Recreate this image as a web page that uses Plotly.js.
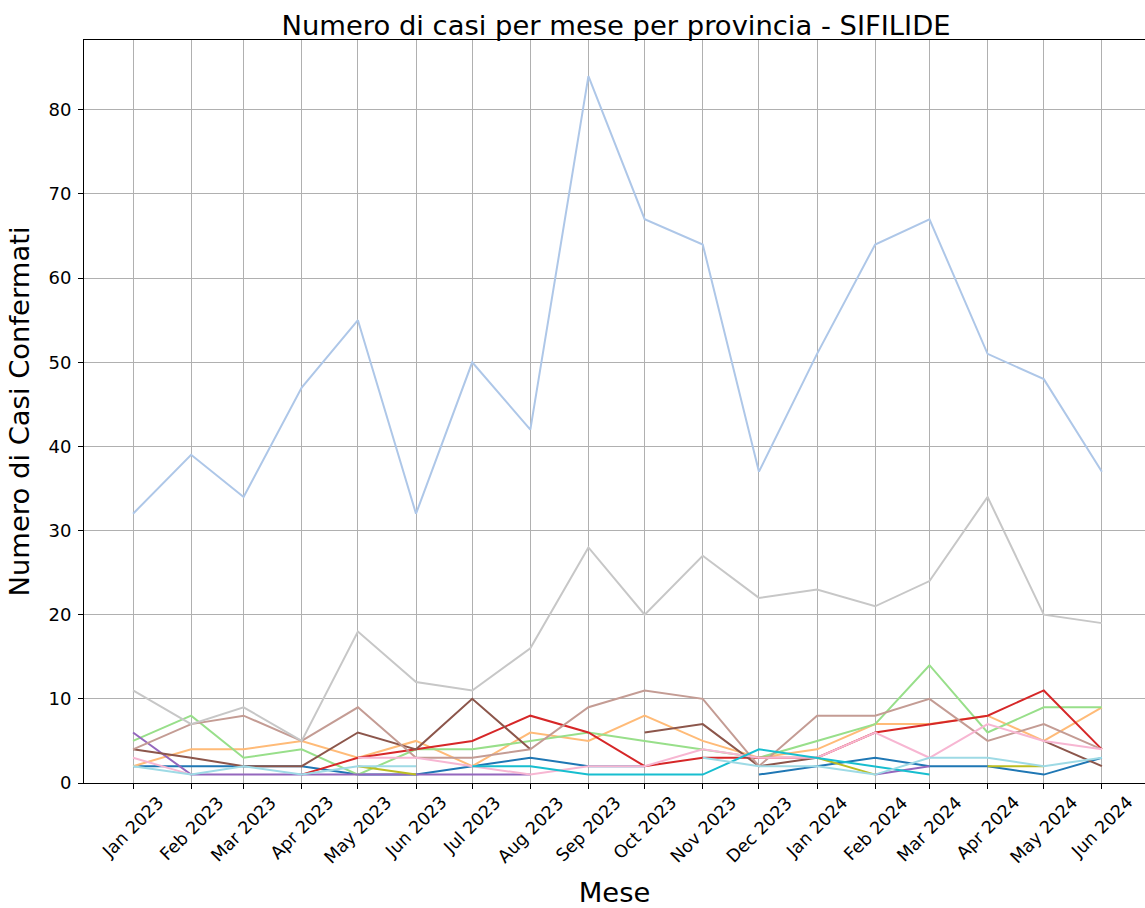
<!DOCTYPE html>
<html>
<head>
<meta charset="utf-8">
<script src="https://cdn.plot.ly/plotly-3.0.1.min.js"></script>
<style>html,body{margin:0;padding:0;background:#fff;overflow:hidden}</style>
</head>
<body>
<div id="chart" style="width:1145px;height:908px"></div>
<script>
const months = ['2023-01-01','2023-02-01','2023-03-01','2023-04-01','2023-05-01','2023-06-01','2023-07-01','2023-08-01','2023-09-01','2023-10-01','2023-11-01','2023-12-01','2024-01-01','2024-02-01','2024-03-01','2024-04-01','2024-05-01','2024-06-01'];
const tickLabels = ['Jan 2023','Feb 2023','Mar 2023','Apr 2023','May 2023','Jun 2023','Jul 2023','Aug 2023','Sep 2023','Oct 2023','Nov 2023','Dec 2023','Jan 2024','Feb 2024','Mar 2024','Apr 2024','May 2024','Jun 2024'];
const yTicks = [0,10,20,30,40,50,60,70,80];

const seriesBlue       = [2,2,2,2,1,1,2,3,2,2,null,1,2,3,2,2,1,3];
const seriesLightBlue  = [32,39,34,47,55,32,50,42,84,67,64,37,51,64,67,51,48,37];
const seriesLightOrange= [2,4,4,5,3,5,2,6,5,8,5,3,4,7,7,8,5,9];
const seriesLightGreen = [5,8,3,4,1,4,4,5,6,5,4,3,5,7,14,6,9,9];
const seriesRed        = [null,null,null,1,3,4,5,8,6,2,3,3,3,6,7,8,11,4];
const seriesPurple     = [6,1,1,1,1,1,1,1,null,null,null,null,null,1,2,null,null,null];
const seriesBrown      = [4,3,2,2,6,4,10,4,null,6,7,2,3,null,null,null,5,2];
const seriesLightBrown = [4,7,8,5,9,3,3,4,9,11,10,2,8,8,10,5,7,4];
const seriesPink       = [3,1,null,null,3,3,2,1,2,2,4,3,3,6,3,7,5,4];
const seriesLightGrey  = [11,7,9,5,18,12,11,16,28,20,27,22,23,21,24,34,20,19];
const seriesOlive      = [null,null,null,null,2,1,null,null,null,null,null,null,3,1,null,2,2,null];
const seriesCyan       = [null,null,null,null,null,null,2,2,1,1,1,4,3,2,1,null,null,null];
const seriesLightCyan  = [2,1,2,1,2,2,null,null,null,null,3,2,2,1,3,3,2,3];

const seriesList = [
  [seriesBlue, '#1f77b4'],
  [seriesLightBlue, '#aec7e8'],
  [seriesLightOrange, '#ffbb78'],
  [seriesLightGreen, '#98df8a'],
  [seriesRed, '#d62728'],
  [seriesPurple, '#9467bd'],
  [seriesBrown, '#8c564b'],
  [seriesLightBrown, '#c49c94'],
  [seriesPink, '#f7b6d2'],
  [seriesLightGrey, '#c7c7c7'],
  [seriesOlive, '#bcbd22'],
  [seriesCyan, '#17becf'],
  [seriesLightCyan, '#9edae5']
];

const FONT = 'DejaVu Sans, sans-serif';
const traces = seriesList.map(([ys, c]) => ({
  type: 'scatter', mode: 'lines', x: months, y: ys,
  line: {color: c, width: 2}, connectgaps: false, hoverinfo: 'skip'
}));

const tickAnnotations = months.map((m, i) => ({
  x: m, xref: 'x', y: 0, yref: 'paper', yshift: -7,
  xanchor: 'center', yanchor: 'top', textangle: -45,
  text: tickLabels[i], showarrow: false,
  font: {family: FONT, size: 17.5, color: '#000'}
}));

const layout = {
  width: 1145, height: 908,
  margin: {l: 84, r: 0, t: 40, b: 125},
  paper_bgcolor: '#fff', plot_bgcolor: '#fff',
  showlegend: false,
  font: {family: FONT, color: '#000'},
  title: {text: 'Numero di casi per mese per provincia - SIFILIDE', font: {family: FONT, size: 27.4, color: '#000'},
          x: 616/1145, xref: 'container', xanchor: 'center', y: 1 - 25/908, yref: 'container', yanchor: 'middle'},
  xaxis: {
    type: 'date', range: ['2022-12-05 20:00', '2024-06-24'],
    tickmode: 'array', tickvals: months, showticklabels: false,
    ticks: 'outside', ticklen: 5, tickcolor: '#000', tickwidth: 1,
    showgrid: true, gridcolor: '#b0b0b0', gridwidth: 1,
    showline: true, linecolor: '#000', linewidth: 1, mirror: true,
    zeroline: false,
    title: {text: 'Mese', font: {family: FONT, size: 27.4, color: '#000'}, standoff: 94}
  },
  yaxis: {
    range: [0, 88.3], tickmode: 'array', tickvals: yTicks,
    ticks: 'outside', ticklen: 5, tickcolor: '#000', tickwidth: 1,
    ticklabelstandoff: 3,
    tickfont: {family: FONT, size: 18, color: '#000'},
    showgrid: true, gridcolor: '#b0b0b0', gridwidth: 1,
    showline: true, linecolor: '#000', linewidth: 1, mirror: false,
    zeroline: false,
    title: {text: 'Numero di Casi Confermati', font: {family: FONT, size: 27.4, color: '#000'}, standoff: 10}
  },
  annotations: tickAnnotations
};

Plotly.newPlot('chart', traces, layout, {displayModeBar: false, staticPlot: true});
</script>
</body>
</html>
